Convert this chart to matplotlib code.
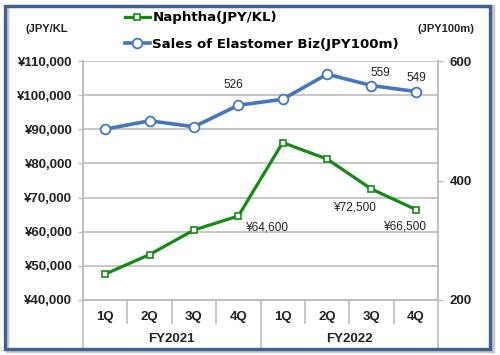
import matplotlib.pyplot as plt
import matplotlib.transforms as mtransforms
from matplotlib.patches import Rectangle
from matplotlib.ticker import FuncFormatter

# data
quarters = ['1Q', '2Q', '3Q', '4Q', '1Q', '2Q', '3Q', '4Q']
years = ['FY2021', 'FY2022']
naphtha = [47600, 53300, 60500, 64600, 86100, 81300, 72500, 66500]
sales = [486, 500, 490, 526, 536, 578, 559, 549]
naphtha_lab = [3, 6, 7]
sales_lab = [3, 6, 7]

green = '#158A15'
blue = '#4677BE'
grid_c = '#BDBDBD'
txt_c = '#222222'
tick_font = dict(family='Liberation Sans', weight='bold', size=9.5)

fig = plt.figure(figsize=(5, 3.55), dpi=100)
ax = fig.add_axes([0.166, 0.155, 0.71, 0.673])
ax2 = ax.twinx()

x = list(range(len(quarters)))
l1, = ax.plot(x, naphtha, color=green, lw=2.3, marker='s', ms=5,
              mfc='white', mec=green, mew=1.2, label='Naphtha(JPY/KL)')
l2, = ax2.plot(x, sales, color=blue, lw=2.6, marker='o', ms=7,
               mfc='white', mec=blue, mew=1.3,
               label='Sales of Elastomer Biz(JPY100m)')

ax.set_xlim(-0.5, 7.5)
ax.set_ylim(40000, 110000)
ax.set_yticks(range(40000, 110001, 10000))
ax.yaxis.set_major_formatter(FuncFormatter(lambda v, p: '¥{:,}'.format(int(v))))
ax.grid(axis='y', color=grid_c, lw=1.2)
ax.set_axisbelow(True)
ax.set_xticks([])
ax.tick_params(axis='y', direction='out', length=3.6, width=1, color=grid_c,
               labelcolor=txt_c, pad=4)
for lab in ax.get_yticklabels():
    lab.set_fontproperties(tick_font)

ax2.set_ylim(200, 600)
ax2.set_yticks([200, 400, 600])
ax2.tick_params(axis='y', direction='out', length=3.6, width=1, color=grid_c,
                labelcolor=txt_c, pad=5)
for lab in ax2.get_yticklabels():
    lab.set_fontproperties(tick_font)

for a in (ax, ax2):
    a.spines['top'].set_visible(False)
    for s in ('left', 'right', 'bottom'):
        a.spines[s].set_color(grid_c)
        a.spines[s].set_linewidth(1.2)

# two level category axis
tr = mtransforms.blended_transform_factory(ax.transData, ax.transAxes)
for xi in [0.5, 1.5, 2.5, 4.5, 5.5, 6.5]:
    ax.plot([xi, xi], [0, -0.096], transform=tr, clip_on=False, color=grid_c, lw=1.2)
for xi in [-0.5, 3.5, 7.5]:
    ax.plot([xi, xi], [0, -0.2], transform=tr, clip_on=False, color=grid_c, lw=1.2)
for xi, q in zip(x, quarters):
    ax.text(xi, -0.071, q, transform=tr, ha='center', va='center',
            color=txt_c, **tick_font)
for i, y in enumerate(years):
    ax.text(1.5 + 4 * i, -0.165, y, transform=tr, ha='center', va='center',
            color=txt_c, **tick_font)

# value labels
lab_font = dict(family='Liberation Sans', size=8.5, color=txt_c)
off_s = {3: (-5, 20), 6: (9, 13), 7: (1, 14)}
for i in sales_lab:
    ax2.annotate(str(sales[i]), (x[i], sales[i]), xytext=off_s[i],
                 textcoords='offset pixels', ha='center', va='center', **lab_font)
off_n = {3: (28, -11), 6: (-17, -18), 7: (-11, -17)}
for i in naphtha_lab:
    ax.annotate('¥{:,}'.format(naphtha[i]), (x[i], naphtha[i]), xytext=off_n[i],
                textcoords='offset pixels', ha='center', va='center', **lab_font)

# units
fig.text(0.052, 0.918, '(JPY/KL', ha='left', va='center', color=txt_c,
         family='Liberation Sans', weight='bold', size=8)
fig.text(0.836, 0.918, '(JPY100m)', ha='left', va='center', color=txt_c,
         family='Liberation Sans', weight='bold', size=8)

fig.legend(handles=[l1, l2], loc='upper left', bbox_to_anchor=(0.25, 0.968),
           frameon=False, borderpad=0, borderaxespad=0, handlelength=1.85,
           handletextpad=0.2, labelspacing=1.0,
           prop=dict(family='DejaVu Sans', weight='bold', size=9.6))

# frame round the whole chart
fig.patches.append(Rectangle((0.014, 0.012), 0.972, 0.972, transform=fig.transFigure,
                             fill=False, ec='#C8C8C8', lw=2.5, zorder=0))
fig.patches.append(Rectangle((0.010, 0.018), 0.970, 0.966, transform=fig.transFigure,
                             fill=False, ec='#3D6191', lw=2.4, zorder=1))

fig.savefig('out.png', dpi=100)
